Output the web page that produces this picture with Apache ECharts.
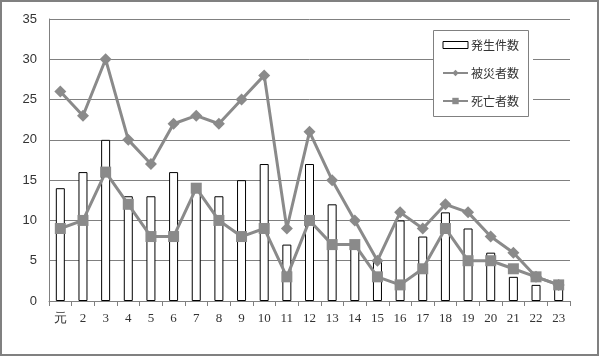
<!DOCTYPE html>
<html><head><meta charset="utf-8">
<script src="https://cdn.jsdelivr.net/npm/echarts@6/dist/echarts.min.js"></script>
<style>html,body{margin:0;padding:0;background:#fff}#c{width:601px;height:357px}</style>
</head><body><div id="c"></div>
<script>
const categories = ['元','2','3','4','5','6','7','8','9','10','11','12','13','14','15','16','17','18','19','20','21','22','23'];
const incidents = [14,16,20,13,13,16,14,13,15,17,7,17,12,7,5,10,8,11,9,6,3,2,2];
const victims = [26,23,30,20,17,22,23,22,25,28,9,21,15,10,5,11,9,12,11,8,6,3,2];
const deaths = [9,10,16,12,8,8,14,10,8,9,3,10,7,7,3,2,4,9,5,5,4,3,2];
const seriesNames = ['発生件数','被災者数','死亡者数'];

const chart = echarts.init(document.getElementById('c'), null, {renderer:'canvas'});
const gray = '#8a8a8a';
chart.setOption({
  animation:false,
  backgroundColor:'#fff',
  graphic:[
    {type:'rect',shape:{x:1,y:1,width:597,height:354},style:{fill:'none',stroke:'#808080',lineWidth:2},silent:true},
    {type:'rect',z:100,shape:{x:433.5,y:30.5,width:95,height:86},style:{fill:'none',stroke:'#808080',lineWidth:1},silent:true}
  ],
  grid:{left:49,right:31,top:19,bottom:56},
  legend:{
    orient:'vertical', left:434, top:31,
    backgroundColor:'#fff', borderWidth:0,
    padding:[7,14,8,8], itemGap:14, itemWidth:25, itemHeight:8,
    textStyle:{fontFamily:'Noto Sans CJK JP', fontSize:12, color:'#333', padding:[0,0,0,-2], lineHeight:14},
    data:[
      {name:seriesNames[0], icon:'path://M0,0H25V7H0Z', itemStyle:{color:'#fff',borderColor:'#000',borderWidth:1}},
      {name:seriesNames[1]},
      {name:seriesNames[2]}
    ]
  },
  xAxis:{
    type:'category', data:categories, boundaryGap:true,
    axisLine:{lineStyle:{color:'#808080',width:1}},
    axisTick:{show:true,length:5,lineStyle:{color:'#808080'}},
    axisLabel:{fontFamily:'Liberation Serif',fontSize:13,color:'#333',margin:11,interval:0}
  },
  yAxis:{
    type:'value', min:0, max:35, interval:5,
    axisLine:{show:true,lineStyle:{color:'#808080',width:1}},
    axisTick:{show:false},
    splitLine:{lineStyle:{color:'#808080',width:1}},
    axisLabel:{fontFamily:'Liberation Sans',fontSize:13,color:'#333',margin:12}
  },
  series:[
    {name:seriesNames[0],type:'bar',data:incidents,barWidth:9,z:1,
     itemStyle:{color:'#fff',borderColor:'#000',borderWidth:1}},
    {name:seriesNames[1],type:'line',data:victims,symbol:'diamond',symbolSize:12,z:3,
     lineStyle:{color:gray,width:3},itemStyle:{color:gray}},
    {name:seriesNames[2],type:'line',data:deaths,symbol:'rect',symbolSize:11,z:2,
     lineStyle:{color:gray,width:3},itemStyle:{color:gray}}
  ]
});
</script></body></html>
